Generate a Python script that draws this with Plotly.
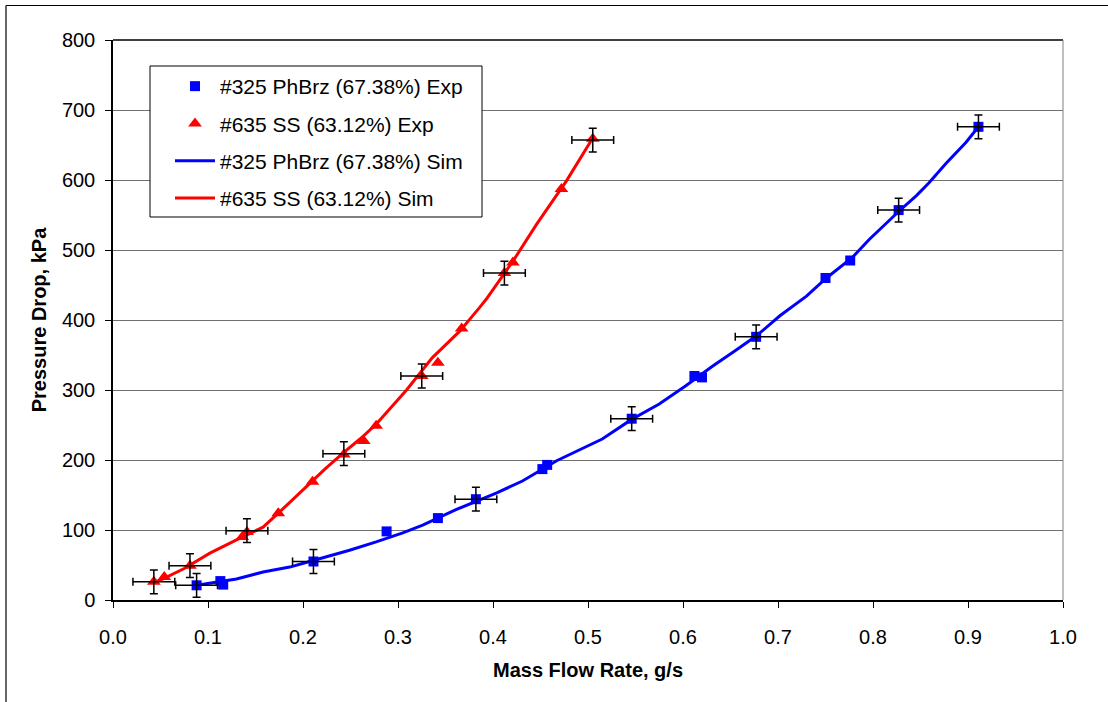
import plotly.graph_objects as go

# ---------------- data ----------------
blue_exp_x = [0.088, 0.113, 0.116, 0.211, 0.288, 0.342, 0.382, 0.452, 0.457, 0.546,
              0.612, 0.620, 0.677, 0.750, 0.776, 0.827, 0.911]
blue_exp_y = [21, 27, 22, 55, 98, 117, 144, 187, 193, 259,
              320, 318, 376, 460, 485, 557, 676]

red_exp_x = [0.043, 0.054, 0.081, 0.136, 0.141, 0.174, 0.210, 0.243, 0.264, 0.277,
             0.325, 0.342, 0.367, 0.412, 0.421, 0.472, 0.505]
red_exp_y = [26, 33, 49, 90, 97, 124, 169, 208, 227, 249,
             320, 339, 388, 467, 482, 587, 659]

# points carrying error bars
blue_err_x = [0.088, 0.211, 0.382, 0.546, 0.677, 0.827, 0.911]
blue_err_y = [21, 55, 144, 259, 376, 557, 676]
red_err_x = [0.043, 0.081, 0.141, 0.243, 0.325, 0.412, 0.505]
red_err_y = [26, 49, 99, 209, 320, 467, 657]
x_err = 0.022
y_err = 17

blue_sim_x = [0.088, 0.115, 0.130, 0.158, 0.186, 0.207, 0.249, 0.277, 0.305, 0.326,
              0.361, 0.404, 0.431, 0.467, 0.488, 0.515, 0.546, 0.575, 0.603, 0.631,
              0.656, 0.677, 0.702, 0.730, 0.751, 0.778, 0.796, 0.827, 0.846, 0.859,
              0.877, 0.898, 0.911]
blue_sim_y = [21, 27, 30, 40, 47, 55, 71, 83, 96, 107,
              129, 153, 170, 199, 213, 230, 258, 280, 306, 334,
              357, 377, 406, 434, 460, 489, 515, 555, 578, 596,
              624, 654, 676]

red_sim_x = [0.045, 0.051, 0.075, 0.102, 0.130, 0.158, 0.185, 0.207, 0.223, 0.243,
             0.260, 0.277, 0.309, 0.336, 0.365, 0.386, 0.393, 0.421, 0.446, 0.477,
             0.491, 0.505]
red_sim_y = [26, 29, 45, 67, 86, 104, 138, 167, 187, 211,
             230, 251, 300, 346, 384, 418, 430, 484, 537, 598,
             628, 660]

names = ["#325 PhBrz (67.38%) Exp", "#635 SS (63.12%) Exp",
         "#325 PhBrz (67.38%) Sim", "#635 SS (63.12%) Sim"]

BLUE = "#0000FF"
RED = "#FF0000"
FONT = "Arial, Liberation Sans, sans-serif"

fig = go.Figure()

fig.add_trace(go.Scatter(x=blue_sim_x, y=blue_sim_y, mode="lines", name=names[2],
                         line=dict(color=BLUE, width=3), legendrank=3, legendgroup="c"))
fig.add_trace(go.Scatter(x=red_sim_x, y=red_sim_y, mode="lines", name=names[3],
                         line=dict(color=RED, width=3), legendrank=4, legendgroup="d"))

fig.add_trace(go.Scatter(x=blue_exp_x, y=blue_exp_y, mode="markers", name=names[0],
                         marker=dict(symbol="square", size=10, color=BLUE),
                         legendrank=1, legendgroup="a"))
fig.add_trace(go.Scatter(x=red_exp_x, y=red_exp_y, mode="markers", name=names[1],
                         marker=dict(symbol="triangle-up", size=12, color=RED),
                         legendrank=2, legendgroup="b"))

for ex, ey in ((blue_err_x, blue_err_y), (red_err_x, red_err_y)):
    fig.add_trace(go.Scatter(
        x=ex, y=ey, mode="markers", showlegend=False,
        marker=dict(size=1, color="rgba(0,0,0,0)"),
        error_x=dict(type="constant", value=x_err, color="black", thickness=1.5, width=4),
        error_y=dict(type="constant", value=y_err, color="black", thickness=1.5, width=4),
        hoverinfo="skip"))

L, R, T, B = 113, 45, 40, 102
W, H = 1108, 702
pw, ph = W - L - R, H - T - B


def px(x):
    return (x - L) / pw


def py(y):
    return (H - B - y) / ph


shapes = [
    # legend box
    dict(type="rect", xref="paper", yref="paper", x0=px(150), x1=px(482), y0=py(217), y1=py(66),
         line=dict(color="black", width=1), fillcolor="white", layer="above"),
    # plot area top (black) and right (gray)
    dict(type="line", xref="paper", yref="paper", x0=0, x1=1, y0=1, y1=1,
         line=dict(color="black", width=1.5)),
    dict(type="line", xref="paper", yref="paper", x0=1, x1=1, y0=0, y1=1,
         line=dict(color="#808080", width=1)),
    # outer chart frame
    dict(type="line", xref="paper", yref="paper", x0=px(6), x1=px(6), y0=py(5.5), y1=py(705),
         line=dict(color="black", width=1.2)),
    dict(type="line", xref="paper", yref="paper", x0=px(6), x1=px(1110), y0=py(5.5), y1=py(5.5),
         line=dict(color="black", width=1.2)),
]

fig.update_layout(
    width=W, height=H,
    margin=dict(l=L, r=R, t=T, b=B),
    paper_bgcolor="white", plot_bgcolor="white",
    font=dict(family=FONT, size=20, color="black"),
    showlegend=True,
    legend=dict(x=px(170), y=py(66), xanchor="left", yanchor="top",
                bgcolor="rgba(0,0,0,0)", borderwidth=0,
                font=dict(family=FONT, size=21, color="black"),
                traceorder="grouped", tracegroupgap=7, itemwidth=40),
    shapes=shapes,
    xaxis=dict(range=[0, 1], dtick=0.1, tick0=0, tickformat=".1f",
               showgrid=False, zeroline=False,
               showline=True, linecolor="black", linewidth=1.5,
               ticks="outside", ticklen=6, tickcolor="black", tickwidth=1,
               ticklabelstandoff=12,
               tickfont=dict(family=FONT, size=20),
               title=dict(text="<b>Mass Flow Rate, g/s</b>", standoff=16,
                          font=dict(family=FONT, size=20))),
    yaxis=dict(range=[0, 800], dtick=100, tick0=0,
               showgrid=True, gridcolor="#707070", gridwidth=1, zeroline=False,
               showline=True, linecolor="black", linewidth=1.5,
               ticks="outside", ticklen=6, tickcolor="black", tickwidth=1,
               ticklabelstandoff=6,
               tickfont=dict(family=FONT, size=20),
               title=dict(text="<b>Pressure Drop, kPa</b>", standoff=10,
                          font=dict(family=FONT, size=20))),
)

fig.write_html("out.html")
